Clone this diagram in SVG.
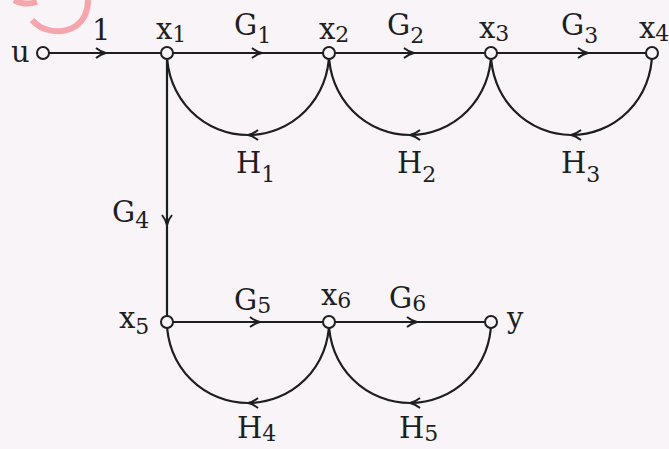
<svg xmlns="http://www.w3.org/2000/svg" width="669" height="449" viewBox="0 0 669 449">
<style>
  .t{font-family:"DejaVu Serif","Liberation Serif",serif;font-size:29px;fill:#1e1e1e}
  .s{font-size:22px}
  .e{fill:none;stroke:#1e1e1e;stroke-width:2.2}
  .n{fill:#f8f4f8;stroke:#1e1e1e;stroke-width:2}
</style>
<defs>
  <marker id="a" markerWidth="14" markerHeight="14" refX="12" refY="7" orient="auto" markerUnits="userSpaceOnUse">
    <path d="M2,2 Q7,6 12,7 Q7,8 2,12" fill="none" stroke="#1e1e1e" stroke-width="2"/>
  </marker>
</defs>
<rect width="669" height="449" fill="#f8f4f8"/>
<path d="M14 0 Q25 6 37 2" fill="none" stroke="#f5a5ac" stroke-width="6"/>
<path d="M32 20 C42 32 62 35 76 26 C84 20 88 10 88 0" fill="none" stroke="#f5a5ac" stroke-width="6"/>
<g id="connectors">
  <path class="e" d="M43 53 L106 53 L167 53" marker-mid="url(#a)"/>
  <path class="e" d="M167 53 L262 53 L329 53" marker-mid="url(#a)"/>
  <path class="e" d="M329 53 L414 53 L491 53" marker-mid="url(#a)"/>
  <path class="e" d="M491 53 L588 53 L652 53" marker-mid="url(#a)"/>
  <path class="e" d="M167 53 L167 225 L167 322" marker-mid="url(#a)"/>
  <path class="e" d="M167 322 L260 322 L329 322" marker-mid="url(#a)"/>
  <path class="e" d="M329 322 L417 322 L491 322" marker-mid="url(#a)"/>
  <path class="e" d="M329 53 A81 82 0 0 1 248 135 A81 82 0 0 1 167 53" marker-mid="url(#a)"/>
  <path class="e" d="M491 53 A81 82 0 0 1 410 135 A81 82 0 0 1 329 53" marker-mid="url(#a)"/>
  <path class="e" d="M652 53 A80.5 82 0 0 1 571 135 A80.5 82 0 0 1 491 53" marker-mid="url(#a)"/>
  <path class="e" d="M329 322 A81 81 0 0 1 248 403 A81 81 0 0 1 167 322" marker-mid="url(#a)"/>
  <path class="e" d="M491 322 A81 81 0 0 1 410 403 A81 81 0 0 1 329 322" marker-mid="url(#a)"/>
</g>
<g id="u"><circle class="n" cx="43" cy="53" r="6"/><text class="t" x="11" y="62">u</text></g>
<g id="x1"><circle class="n" cx="167" cy="53" r="6"/><text class="t" x="156" y="39">x<tspan class="s" dy="3">1</tspan></text></g>
<g id="x2"><circle class="n" cx="329" cy="53" r="6"/><text class="t" x="319" y="39">x<tspan class="s" dy="3">2</tspan></text></g>
<g id="x3"><circle class="n" cx="491" cy="53" r="6"/><text class="t" x="479" y="38">x<tspan class="s" dy="3">3</tspan></text></g>
<g id="x4"><circle class="n" cx="652" cy="53" r="6"/><text class="t" x="639" y="38">x<tspan class="s" dy="3">4</tspan></text></g>
<g id="x5"><circle class="n" cx="167" cy="322" r="6"/><text class="t" x="119" y="328">x<tspan class="s" dy="6">5</tspan></text></g>
<g id="x6"><circle class="n" cx="329" cy="322" r="6"/><text class="t" x="321" y="305">x<tspan class="s" dy="3">6</tspan></text></g>
<g id="y"><circle class="n" cx="491" cy="322" r="6"/><text class="t" x="507" y="328">y</text></g>
<g id="labels">
  <text class="t" x="92" y="40">1</text>
  <text class="t" x="234" y="35">G<tspan class="s" dy="8">1</tspan></text>
  <text class="t" x="387" y="35">G<tspan class="s" dy="8">2</tspan></text>
  <text class="t" x="561" y="35">G<tspan class="s" dy="8">3</tspan></text>
  <text class="t" x="236" y="173">H<tspan class="s" dy="9">1</tspan></text>
  <text class="t" x="397" y="173">H<tspan class="s" dy="9">2</tspan></text>
  <text class="t" x="561" y="173">H<tspan class="s" dy="9">3</tspan></text>
  <text class="t" x="112" y="222">G<tspan class="s" dy="6">4</tspan></text>
  <text class="t" x="234" y="310">G<tspan class="s" dy="3">5</tspan></text>
  <text class="t" x="389" y="308">G<tspan class="s" dy="3">6</tspan></text>
  <text class="t" x="237" y="438">H<tspan class="s" dy="3">4</tspan></text>
  <text class="t" x="399" y="438">H<tspan class="s" dy="3">5</tspan></text>
</g>
</svg>
